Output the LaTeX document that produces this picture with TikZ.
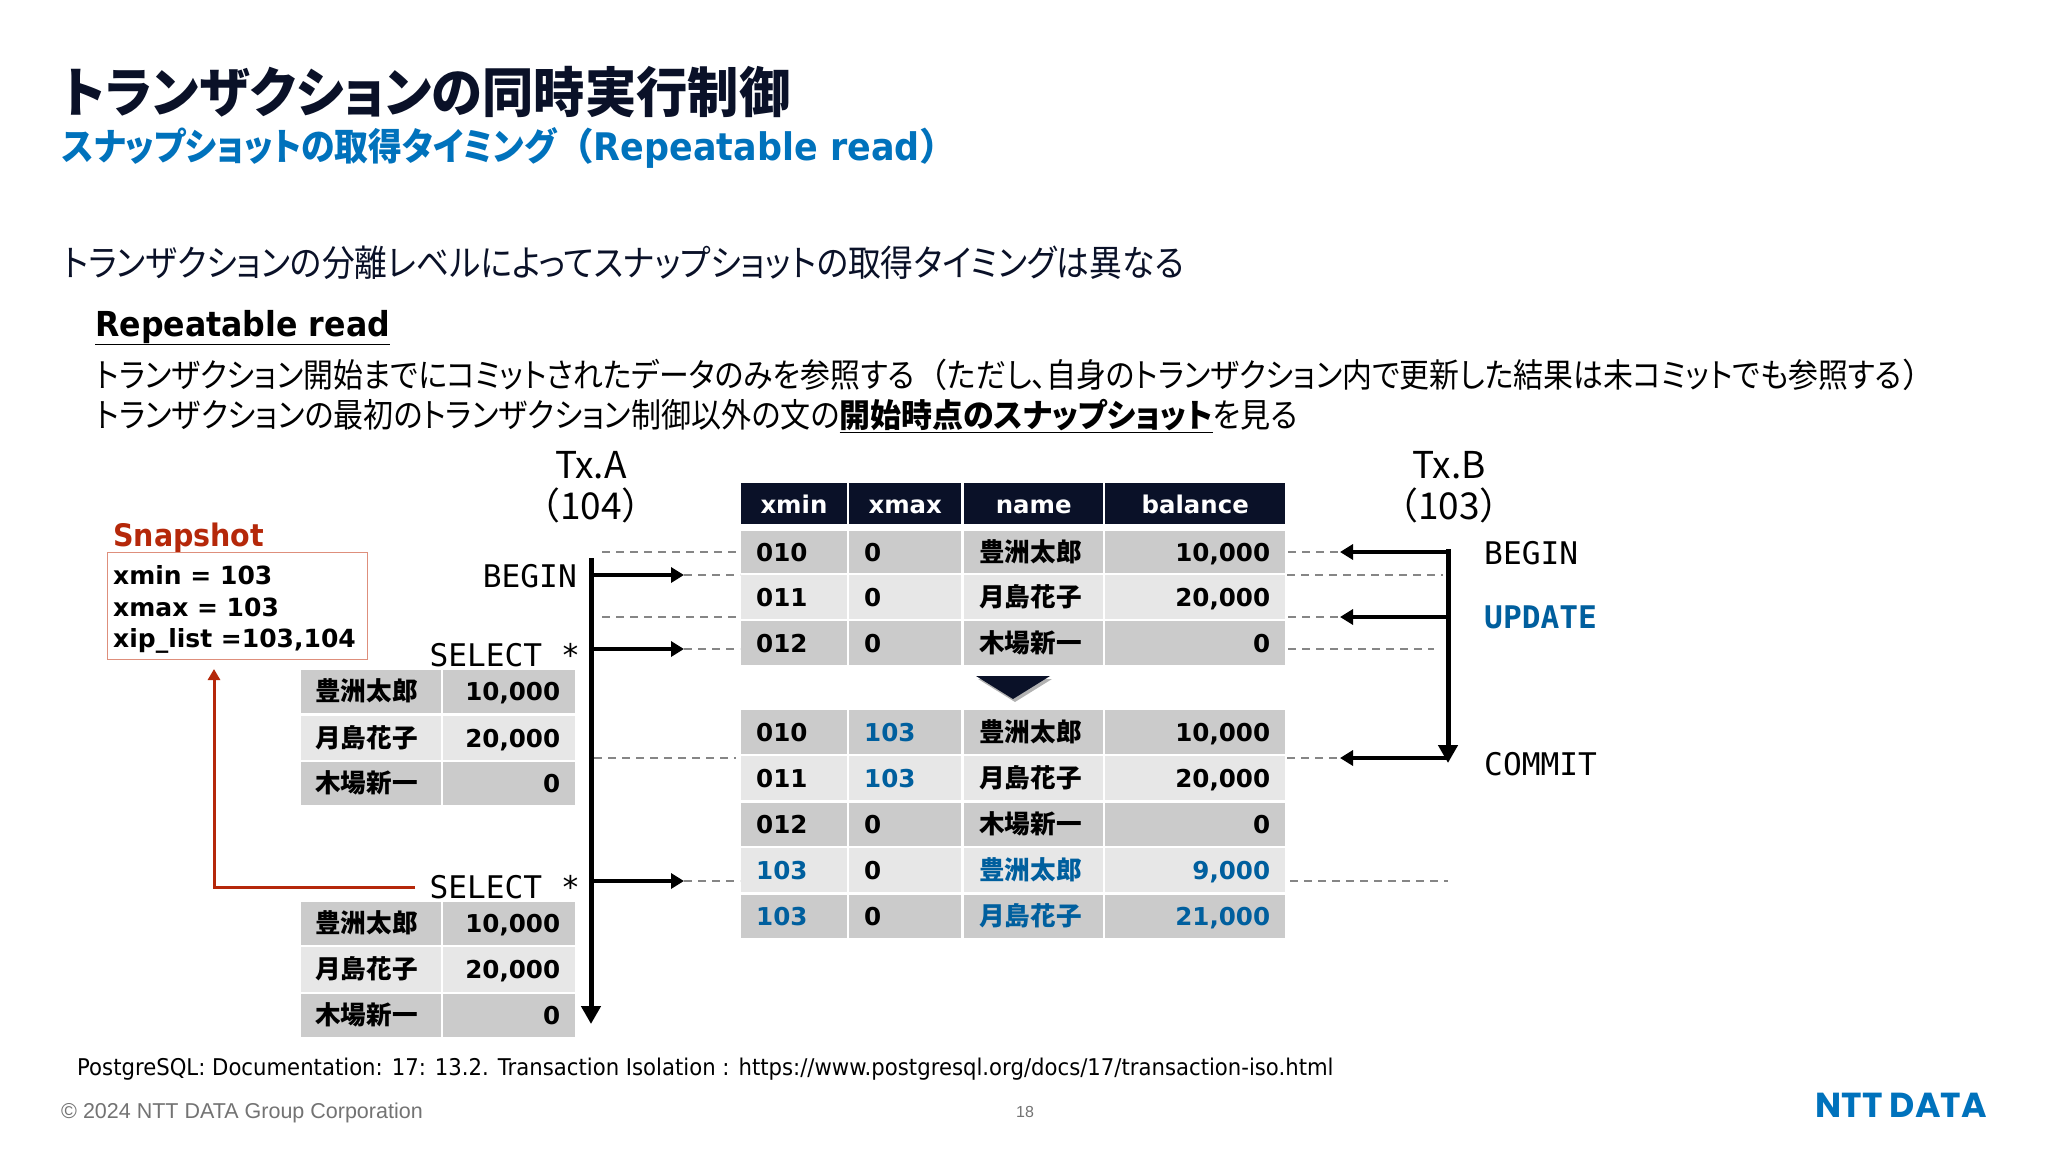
\documentclass[tikz,border=0pt]{standalone}
\usepackage{fontspec}
\setmainfont{Noto Sans CJK JP}
\newfontfamily\jpfont[RawFeature={+palt}]{Noto Sans CJK JP}
\newfontfamily\jptitle[RawFeature={+palt},FakeStretch=.95]{Noto Sans CJK JP}
\newfontfamily\jpnarrow[RawFeature={+palt},FakeStretch=.9]{Noto Sans CJK JP}
\newfontfamily\latfont{DejaVu Sans}
\newfontfamily\latnarrow[FakeStretch=.92]{DejaVu Sans}
\newfontfamily\monofont{DejaVu Sans Mono}
\newfontfamily\copyfont{Liberation Sans}
\newfontfamily\logofont{Poppins}
\usetikzlibrary{arrows.meta,shadows}
\definecolor{txnavy}{HTML}{0A1128}
\definecolor{txblue}{HTML}{0072BC}
\definecolor{txteal}{HTML}{005F9E}
\definecolor{txred}{HTML}{B5280A}
\definecolor{txframe}{HTML}{DE8F7C}
\definecolor{rowdark}{HTML}{CBCBCB}
\definecolor{rowlight}{HTML}{E7E7E7}
\definecolor{txdash}{HTML}{868686}
\newcommand{\px}[1]{\fontsize{#1}{#1}\selectfont}
\newcommand{\bluetxt}[1]{\textcolor{txteal}{#1}}
\tikzset{
  textlabel/.style={anchor=base west,inner sep=0pt},
  cell/.style={anchor=north west,inner xsep=15pt,inner ysep=0pt,text height=19.5pt,text depth=1.5pt,font=\px{24.6}\latfont\bfseries,text=black},
  headcell/.style={anchor=north west,inner sep=0pt,fill=txnavy,text=white,align=center,text height=20pt,text depth=0pt,font=\px{24.4}\latfont\bfseries},
  sql/.style={inner sep=0pt,font=\px{31.2}\monofont},
  timeline/.style={line width=5pt,-{Triangle[length=18pt,width=19pt]}},
  step arrow/.style={line width=4.4pt,-{Triangle[length=13pt,width=15pt]}},
  guide/.style={txdash,line width=1.8pt,dash pattern=on 8pt off 6pt},
}
\newcommand{\jpname}[1]{{\jpfont\bfseries\px{25.6}#1}}
\begin{document}
\begin{tikzpicture}[x=1pt,y=-1pt]
      \useasboundingbox[fill=white] (0,0) rectangle (2048,1152);

      \node[textlabel,text=txnavy,font=\px{54}\jptitle\bfseries] (title) at (62,112){トランザクションの同時実行制御};
      \node[textlabel,text=txblue,font=\px{37.6}\bfseries] (subtitle) at (62,160){{\jpnarrow スナップショットの取得タイミング}（{\latnarrow\px{38}Repeatable read}）};
      \node[textlabel,text=txnavy,font=\px{36.4}\jpnarrow] (lead) at (63,276){トランザクションの分離レベルによってスナップショットの取得タイミングは異なる};
      \node[textlabel,font=\px{34.4}\latnarrow\bfseries] (rrhead) at (95,336){\underline{Repeatable read}};
      \node[textlabel,font=\px{33.2}\jpnarrow] (rrone) at (96,387){トランザクション開始までにコミットされたデータのみを参照する{\normalfont （}ただし、自身のトランザクション内で更新した結果は未コミットでも参照する{\normalfont ）}};
      \node[textlabel,font=\px{33.4}\jpnarrow] (rrtwo) at (96,427){トランザクションの最初のトランザクション制御以外の文の\underline{\jptitle\bfseries\px{32.6}開始時点のスナップショット}を見る};

      \node[anchor=base,inner sep=0pt,font=\px{37}] (txa) at (591,478){Tx.A};
      \node[anchor=base,inner sep=0pt,font=\px{37}] (txaid) at (591,519){（104）};
      \node[anchor=base,inner sep=0pt,font=\px{37}] (txb) at (1449,478){Tx.B};
      \node[anchor=base,inner sep=0pt,font=\px{37}] (txbid) at (1449,519){（103）};

      \node[textlabel,text=txred,font=\px{31}\latnarrow\bfseries] (snaphead) at (113,546){Snapshot};
      \node[anchor=north west,draw=txframe,line width=1.3pt,minimum width=260pt,minimum height=107pt,inner sep=0pt] (snapbox) at (107,552){};
      \node[textlabel,font=\px{25}\latfont\bfseries] (snapmin) at (113,584){xmin = 103};
      \node[textlabel,font=\px{25}\latfont\bfseries] (snapmax) at (113,616){xmax = 103};
      \node[textlabel,font=\px{25}\latfont\bfseries] (snaplist) at (113,647){xip\_list =103,104};

      \foreach \xa/\xb/\head/\colid in {741/846.5/xmin/a,849/961/xmax/b,964/1103/name/c,1105/1285/balance/d}
        \node[headcell,minimum width={(\xb-\xa)*1pt},minimum height=41pt] (head\colid) at (\xa,483){\head};

      \foreach \ya/\yb/\tone/\vmin/\vmax/\who/\amt/\rowid in {
        531/573/rowdark/010/0/豊洲太郎/{10,000}/a,
        575/619/rowlight/011/0/月島花子/{20,000}/b,
        621/665/rowdark/012/0/木場新一/0/c,
        710/754/rowdark/010/\bluetxt{103}/豊洲太郎/{10,000}/d,
        756/800/rowlight/011/\bluetxt{103}/月島花子/{20,000}/e,
        803/846/rowdark/012/0/木場新一/0/f,
        848/892/rowlight/\bluetxt{103}/0/\bluetxt{豊洲太郎}/{\bluetxt{9,000}}/g,
        895/938/rowdark/\bluetxt{103}/0/\bluetxt{月島花子}/{\bluetxt{21,000}}/h}
      {
        \node[cell,fill=\tone,text width=75.5pt,align=left,minimum height={(\yb-\ya)*1pt}] (xmin\rowid) at (741,\ya){\vmin};
        \node[cell,fill=\tone,text width=82pt,align=left,minimum height={(\yb-\ya)*1pt}] (xmax\rowid) at (849,\ya){\vmax};
        \node[cell,fill=\tone,text width=109pt,align=left,minimum height={(\yb-\ya)*1pt}] (name\rowid) at (964,\ya){\jpname{\who}};
        \node[cell,fill=\tone,text width=150pt,align=right,minimum height={(\yb-\ya)*1pt}] (bal\rowid) at (1105,\ya){\amt};
      }

      \foreach \ya/\yb/\tone/\who/\amt/\rowid in {
        670/713/rowdark/豊洲太郎/{10,000}/a,
        716/760/rowlight/月島花子/{20,000}/b,
        762/805/rowdark/木場新一/0/c,
        902/945/rowdark/豊洲太郎/{10,000}/d,
        947/992/rowlight/月島花子/{20,000}/e,
        994/1037/rowdark/木場新一/0/f}
      {
        \node[cell,fill=\tone,inner xsep=14pt,text width=112pt,align=left,minimum height={(\yb-\ya)*1pt}] (seen\rowid) at (301,\ya){\jpname{\who}};
        \node[cell,fill=\tone,text width=102pt,align=right,minimum height={(\yb-\ya)*1pt}] (seenbal\rowid) at (443,\ya){\amt};
      }

      \draw[fill=txnavy,draw=none,drop shadow={shadow xshift=2pt,shadow yshift=-3pt,fill=black,opacity=.3}] (976,676) -- (1050,676) -- (1013,699) -- cycle;

      \node[sql,anchor=base east] (abegin) at (577,587){BEGIN};
      \node[sql,anchor=base east] (aselect) at (580,666){SELECT *};
      \node[sql,anchor=base east] (aselectb) at (580,898){SELECT *};
      \node[sql,anchor=base west] (bbegin) at (1484,564){BEGIN};
      \node[sql,anchor=base west,text=txteal,font=\px{31.2}\monofont\bfseries] (bupdate) at (1484,628){UPDATE};
      \node[sql,anchor=base west] (bcommit) at (1484,775){COMMIT};

      \coordinate (atop) at (591,558);
      \coordinate (aend) at (591,1024);
      \coordinate (btop) at (1448,549);
      \coordinate (bend) at (1448,763);
      \draw[timeline] (atop) -- (aend);
      \draw[timeline] (btop) -- (bend);

      \foreach \yy/\arrowid in {575/a,649/b,881/c}{
        \coordinate (afrom\arrowid) at (591,\yy);
        \coordinate (ato\arrowid) at (684,\yy);
        \draw[step arrow] (afrom\arrowid) -- (ato\arrowid);
      }
      \foreach \yy/\arrowid in {552/a,617/b,758/c}{
        \coordinate (bfrom\arrowid) at (1448,\yy);
        \coordinate (bto\arrowid) at (1340,\yy);
        \draw[step arrow] (bfrom\arrowid) -- (bto\arrowid);
      }

      \draw[guide] (602,552) -- (740,552);
      \draw[guide] (atoa) -- (740,575);
      \draw[guide] (602,617) -- (740,617);
      \draw[guide] (atob) -- (740,649);
      \draw[guide] (594,758) -- (736,758);
      \draw[guide] (atoc) -- (740,881);
      \draw[guide] (1288,552) -- (btoa);
      \draw[guide] (1287,575) -- (1443,575);
      \draw[guide] (1288,617) -- (btob);
      \draw[guide] (1288,649) -- (1434,649);
      \draw[guide] (1287,758) -- (btoc);
      \draw[guide] (1290,881) -- (1448,881);

      \coordinate (snapfrom) at (415,887);
      \coordinate (snapcorner) at (214,887);
      \coordinate (snapto) at (214,669);
      \draw[txred,line width=3pt,-{Triangle[length=11pt,width=12pt]}] (snapfrom) -- (snapcorner) -- (snapto);

      \node[textlabel,font=\px{23.05}\latnarrow] (source) at (77,1075){PostgreSQL: Documentation: 17: 13.2. Transaction Isolation : https://www.postgresql.org/docs/17/transaction-iso.html};
      \node[textlabel,text=black!55,font=\px{21.5}\copyfont] (copyright) at (61,1118){© 2024 NTT DATA Group Corporation};
      \node[anchor=base,inner sep=0pt,text=black!55,font=\px{16}\copyfont] (pageno) at (1025,1117){18};
      \node[anchor=base east,inner sep=0pt,text=txblue,font=\px{34.7}\logofont\bfseries] (logo) at (1987,1117){NTT DATA};

    \end{tikzpicture}
\end{document}
